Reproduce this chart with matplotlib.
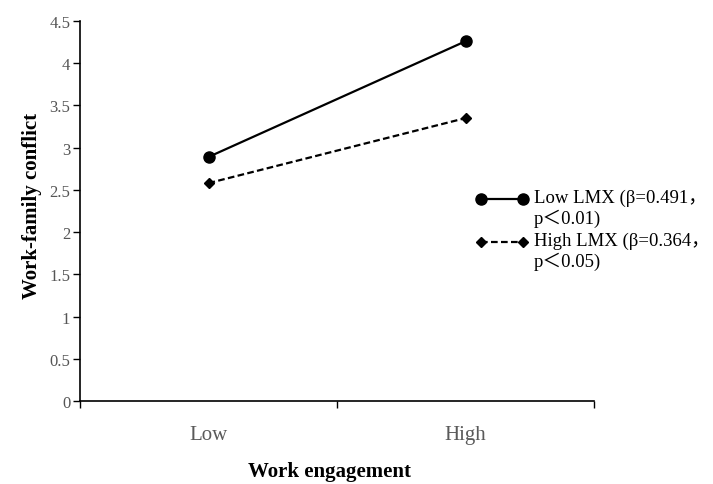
import matplotlib
matplotlib.use("Agg")
import matplotlib.pyplot as plt
from matplotlib.lines import Line2D

categories = ["Low", "High"]
low_lmx = [2.89, 4.26]
high_lmx = [2.58, 3.35]
yticks = [0, 0.5, 1, 1.5, 2, 2.5, 3, 3.5, 4, 4.5]
ytick_labels = ["0", "0.5", "1", "1.5", "2", "2.5", "3", "3.5", "4", "4.5"]
label_low = "Low LMX (β=0.491，\np＜0.01)"
label_high = "High LMX (β=0.364，\np＜0.05)"

plt.rcParams['font.family'] = ['Liberation Serif', 'Noto Sans CJK SC', 'DejaVu Sans']

W, H = 713, 485
fig = plt.figure(figsize=(W/100, H/100), dpi=100)
ax = fig.add_axes([80/W, 83/H, (594-80)/W, (402-22)/H])

x = list(range(len(categories)))
solid_style = dict(color='black', lw=1.6, marker='o', ms=8)
dash_style = dict(color='black', lw=1.6, ls=(0, (3, 1.5)), marker='D', ms=5)
ax.plot(x, low_lmx, **solid_style)
ax.plot(x, high_lmx, **dash_style)

ax.set_xlim(-0.5, 1.5)
ax.set_ylim(0, 4.5)
ax.set_yticks(yticks)
ax.set_yticklabels(ytick_labels)
ax.set_xticks([-0.5, 0.5, 1.5])
ax.set_xticklabels([])
ax.set_xticks(x, minor=True)
ax.set_xticklabels(categories, minor=True)
ax.tick_params(axis='x', which='minor', length=0, pad=17, labelsize=15, labelcolor='#5a5a5a')
ax.tick_params(axis='x', which='major', direction='out', length=5, width=1)
ax.tick_params(axis='y', direction='out', length=5, width=1, labelsize=12, labelcolor='#555555', pad=2)

for s in ['top', 'right']:
    ax.spines[s].set_visible(False)
for s in ['left', 'bottom']:
    ax.spines[s].set_linewidth(1.2)

ax.set_ylabel("Work-family conflict", fontsize=15, fontweight='bold', va='center')
ax.yaxis.set_label_coords((32-80)/514, (402-206)/380)
ax.set_xlabel("Work engagement", fontsize=15, fontweight='bold', va='center')
ax.xaxis.set_label_coords((330-80)/514, (402-472)/380)

# legend drawn manually so the handle lines up with the first text line
def legend_entry(y_px, style, text):
    yf = 1 - y_px / H
    fig.add_artist(Line2D([481/W, 523/W], [yf, yf], transform=fig.transFigure, **style))
    fig.text(534/W, yf + 10/H, text, fontsize=13.5, va='top', ha='left', linespacing=1.15,
             transform=fig.transFigure)

legend_entry(200, solid_style, label_low)
legend_entry(243, dash_style, label_high)

fig.savefig("out.png", dpi=100)
